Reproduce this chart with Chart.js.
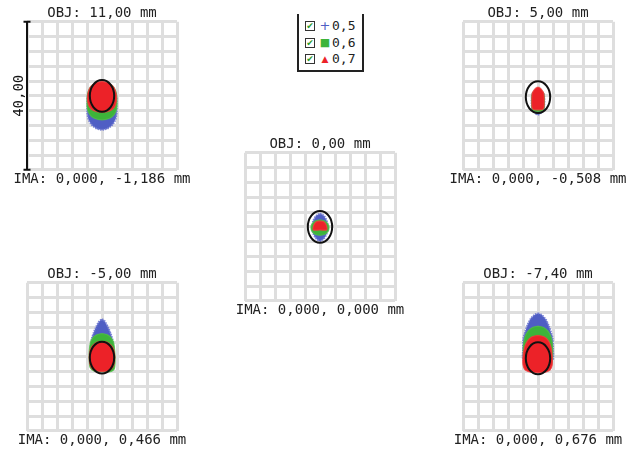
<!DOCTYPE html>
<html>
<head>
<meta charset="utf-8">
<script src="https://cdn.jsdelivr.net/npm/chart.js@4.4.1/dist/chart.umd.min.js"></script>
<style>
  html, body { margin: 0; padding: 0; background: #fff; width: 636px; height: 450px; overflow: hidden; }
  body { position: relative; font-family: 'DejaVu Sans Mono', monospace; }
  canvas.panel { position: absolute; }
  #legend { position: absolute; left: 297px; top: 14px; width: 63px; height: 56px;
            border: 2px solid #222; border-top: none; }
  .row { position: absolute; left: 0; height: 16px; line-height: 16px; font-size: 13px; color: #222; white-space: nowrap; }
  .chk { position: absolute; left: 6px; top: 3px; width: 8px; height: 8px; border: 1.5px solid #333;
         font-family: 'DejaVu Sans', sans-serif; font-size: 9px; line-height: 8px; text-align: center; color: #2a9a2a; font-weight: bold; }
  .mk { position: absolute; left: 20px; width: 12px; text-align: center; font-family: 'DejaVu Sans', sans-serif; }
  .lbl { position: absolute; left: 33px; }
</style>
</head>
<body>
<div id="legend"></div>
<script>
// Field heights (object side) and image-plane chief ray positions, mm
const objField = [11.00, 5.00, 0.00, -5.00, -7.40];
const imaX = [0.000, 0.000, 0.000, 0.000, 0.000];
const imaY = [-1.186, -0.508, 0.000, 0.466, 0.676];

// Wavelengths, µm
const wavelengths = [0.5, 0.6, 0.7];
const waveColors = ['#4f5ec4', '#3db43a', '#ec2228'];
const waveEdges = ['rgba(110,120,210,0.9)', 'rgba(80,190,70,0.8)', 'rgba(240,60,60,0.8)'];
const waveMarks = ['+', '\u25A0', '\u25B2'];

// Scale bar length, µm (the plot box spans this on each side)
const scaleBar = 40.00;

// Airy ellipse: centre offset and semi-axes, µm
const airyCentreY = [0.0, -0.35, 0.0, -0.2, -0.4];
const airyRx = 3.25;
const airyRy = 4.3;

// Spot outlines per field, µm (x, y)
const p1Blue  = [[0,3.2],[2.6,2.4],[3.7,0.5],[3.9,-2.5],[3.9,-4.8],[3.5,-6.6],[2.6,-8.0],[1.3,-8.9],[0,-9.2],[-1.3,-8.9],[-2.6,-8.0],[-3.5,-6.6],[-3.9,-4.8],[-3.9,-2.5],[-3.7,0.5],[-2.6,2.4]];
const p1Green = [[0,3.6],[2.7,2.8],[3.8,0.8],[4.0,-1.8],[3.9,-3.6],[3.3,-5.0],[2.2,-6.0],[0,-6.5],[-2.2,-6.0],[-3.3,-5.0],[-3.9,-3.6],[-4.0,-1.8],[-3.8,0.8],[-2.7,2.8]];
const p1Red   = [[0,3.9],[1.9,3.4],[3.2,2.2],[3.8,0.4],[3.8,-1.6],[3.3,-3.1],[2.2,-4.0],[0,-4.4],[-2.2,-4.0],[-3.3,-3.1],[-3.8,-1.6],[-3.8,0.4],[-3.2,2.2],[-1.9,3.4]];

const p2Blue  = [[0,2.0],[1.5,0.5],[1.6,-3.4],[1.1,-4.3],[0,-5.1],[-1.1,-4.3],[-1.6,-3.4],[-1.5,0.5]];
const p2Green = [[0,2.2],[1.55,0.6],[1.65,-3.3],[1.3,-4.0],[0,-4.3],[-1.3,-4.0],[-1.65,-3.3],[-1.55,0.6]];
const p2Red   = [[0,2.4],[0.7,2.0],[1.4,1.0],[1.6,0.3],[1.6,-3.1],[1.2,-3.7],[0,-3.8],[-1.2,-3.7],[-1.6,-3.1],[-1.6,0.3],[-1.4,1.0],[-0.7,2.0]];

const p3Blue  = [[0,3.6],[1.0,3.0],[1.8,1.6],[2.05,0],[1.8,-1.8],[1.0,-3.2],[0,-3.85],[-1.0,-3.2],[-1.8,-1.8],[-2.05,0],[-1.8,1.6],[-1.0,3.0]];
const p3Green = [[0,1.9],[1.2,1.6],[2.1,0.8],[2.4,-0.3],[2.1,-1.3],[1.2,-2.1],[0,-2.3],[-1.2,-2.1],[-2.1,-1.3],[-2.4,-0.3],[-2.1,0.8],[-1.2,1.6]];
const p3Red   = [[0,1.6],[0.9,1.4],[1.5,0.8],[1.8,0],[1.8,-0.85],[0,-0.85],[-1.8,-0.85],[-1.8,0],[-1.5,0.8],[-0.9,1.4]];

const p4Blue  = [[0,10.2],[0.8,9.5],[1.6,8.0],[2.3,6.3],[2.8,4.6],[3.0,2.5],[3.0,0],[2.5,-2.0],[0,-3.0],[-2.5,-2.0],[-3.0,0],[-3.0,2.5],[-2.8,4.6],[-2.3,6.3],[-1.6,8.0],[-0.8,9.5]];
const p4Green = [[0,6.3],[1.3,6.0],[2.4,5.2],[3.1,3.8],[3.4,1.5],[3.5,-1.5],[3.2,-3.4],[2.2,-4.0],[0,-4.0],[-2.2,-3.8],[-3.2,-2.8],[-3.4,-1.0],[-3.4,1.5],[-3.1,3.8],[-2.4,5.2],[-1.3,6.0]];
const p4Red   = [[0,4.2],[1.6,3.8],[2.8,2.6],[3.35,0.8],[3.35,-1.2],[2.9,-2.8],[1.8,-3.7],[0,-3.95],[-1.8,-3.7],[-2.9,-2.8],[-3.35,-1.2],[-3.35,0.8],[-2.8,2.6],[-1.6,3.8]];

const p5Blue  = [[0,11.8],[1.0,11.3],[2.0,10.2],[2.8,8.6],[3.4,6.8],[3.9,5.0],[4.0,2.0],[3.8,-1.0],[0,-3.0],[-3.8,-1.0],[-4.0,2.0],[-3.9,5.0],[-3.4,6.8],[-2.8,8.6],[-2.0,10.2],[-1.0,11.3]];
const p5Green = [[0,8.3],[1.5,7.9],[2.7,6.9],[3.5,5.3],[3.9,3.0],[3.9,0],[3.5,-2.0],[0,-3.0],[-3.5,-2.0],[-3.9,0],[-3.9,3.0],[-3.5,5.3],[-2.7,6.9],[-1.5,7.9]];
const p5Red   = [[0,5.8],[1.6,5.4],[2.8,4.3],[3.5,2.5],[3.8,0],[3.8,-2.2],[3.2,-3.6],[1.8,-4.2],[0,-4.3],[-1.8,-4.2],[-3.4,-3.6],[-4.0,-2.2],[-4.0,0],[-3.6,2.5],[-2.8,4.3],[-1.6,5.4]];

const spots = [
  [p1Blue, p1Green, p1Red],
  [p2Blue, p2Green, p2Red],
  [p3Blue, p3Green, p3Red],
  [p4Blue, p4Green, p4Red],
  [p5Blue, p5Green, p5Red]
];

// Plot box (grid) top-left corners on the page
const boxLeft = [27, 463, 245, 27, 463];
const boxTop  = [22, 22, 153, 283, 283];

const fmt = (v, d) => v.toFixed(d).replace('.', ',');

// Legend
const legend = document.getElementById('legend');
const rowCentres = [11.5, 29, 45];
wavelengths.forEach((w, i) => {
  const row = document.createElement('div');
  row.className = 'row';
  row.style.top = (rowCentres[i] - 8) + 'px';
  row.style.width = '63px';
  const chk = document.createElement('span'); chk.className = 'chk'; chk.textContent = '\u2714';
  const mk = document.createElement('span'); mk.className = 'mk'; mk.textContent = waveMarks[i];
  mk.style.color = waveColors[i];
  mk.style.fontSize = i === 0 ? '13px' : (i === 1 ? '11px' : '9px');
  const lb = document.createElement('span'); lb.className = 'lbl'; lb.textContent = fmt(w, 1);
  row.append(chk, mk, lb);
  legend.appendChild(row);
});

// Airy ellipse and optional scale bar, drawn through the chart's scales
const spotExtras = {
  id: 'spotExtras',
  afterDatasetsDraw(chart, args, opts) {
    const { ctx, scales: { x, y } } = chart;
    const cx = x.getPixelForValue(0);
    const cy = y.getPixelForValue(opts.cy);
    const rx = Math.abs(x.getPixelForValue(opts.rx) - x.getPixelForValue(0));
    const ry = Math.abs(y.getPixelForValue(opts.cy + opts.ry) - cy);
    ctx.save();
    ctx.beginPath();
    ctx.ellipse(cx, cy, rx, ry, 0, 0, Math.PI * 2);
    ctx.lineWidth = 2;
    ctx.strokeStyle = '#111';
    ctx.stroke();
    if (opts.bar) {
      const bx = x.getPixelForValue(-scaleBar / 2);
      const y0 = y.getPixelForValue(-scaleBar / 2);
      const y1 = y.getPixelForValue(scaleBar / 2);
      ctx.beginPath();
      ctx.moveTo(bx, y0); ctx.lineTo(bx, y1);
      ctx.moveTo(bx - 3.5, y0); ctx.lineTo(bx + 3.5, y0);
      ctx.moveTo(bx - 3.5, y1); ctx.lineTo(bx + 3.5, y1);
      ctx.lineWidth = 2;
      ctx.strokeStyle = '#111';
      ctx.stroke();
      ctx.translate(bx - 8, (y0 + y1) / 2);
      ctx.rotate(-Math.PI / 2);
      ctx.fillStyle = '#111';
      ctx.font = '14px "DejaVu Sans Mono"';
      ctx.textAlign = 'center';
      ctx.textBaseline = 'middle';
      ctx.fillText(fmt(scaleBar, 2), 0, 0);
    }
    ctx.restore();
  }
};

const W = 200, H = 190, SIDE = 25, PADTOP = 2;
const lim = scaleBar / 2;
const sideFit = s => { s.width = SIDE; };

spots.forEach((sets, p) => {
  const cv = document.createElement('canvas');
  cv.className = 'panel';
  cv.width = W; cv.height = H;
  cv.style.left = (boxLeft[p] - SIDE) + 'px';
  cv.style.top = (boxTop[p] - PADTOP - 16.8) + 'px';
  document.body.appendChild(cv);

  // red on top, blue underneath
  const datasets = [2, 1, 0].map(w => ({
    label: fmt(wavelengths[w], 1),
    data: sets[w].concat([sets[w][0]]).map(([px, py]) => ({ x: px, y: py })),
    showLine: true,
    fill: 'shape',
    backgroundColor: waveColors[w],
    borderColor: waveEdges[w],
    borderWidth: w === 0 ? 2 : 1.2,
    borderDash: w === 0 ? [1.5, 1] : [],
    tension: 0.3,
    pointRadius: 0
  }));

  new Chart(cv, {
    type: 'scatter',
    data: { datasets },
    options: {
      responsive: false,
      animation: false,
      devicePixelRatio: 1,
      layout: { padding: { left: 0, right: 0, top: PADTOP, bottom: 5.4 } },
      scales: {
        x: {
          min: -lim, max: lim,
          ticks: { display: false, stepSize: 4 },
          grid: { color: '#dedede', lineWidth: 3, drawTicks: false },
          border: { display: false }
        },
        y: {
          min: -lim, max: lim,
          ticks: { display: false, stepSize: 4 },
          grid: { color: '#dedede', lineWidth: 3, drawTicks: false },
          border: { display: false },
          afterFit: sideFit
        },
        yR: {
          position: 'right',
          min: -lim, max: lim,
          ticks: { display: false },
          grid: { display: false, drawTicks: false },
          border: { display: false },
          afterFit: sideFit
        }
      },
      plugins: {
        legend: { display: false },
        tooltip: { enabled: false },
        title: {
          display: true,
          text: 'OBJ: ' + fmt(objField[p], 2) + ' mm',
          font: { family: 'DejaVu Sans Mono', size: 14, weight: 'normal' },
          color: '#222',
          padding: { top: 0, bottom: 0 }
        },
        subtitle: {
          display: true,
          position: 'bottom',
          text: 'IMA: ' + fmt(imaX[p], 3) + ', ' + fmt(imaY[p], 3) + ' mm',
          font: { family: 'DejaVu Sans Mono', size: 14, weight: 'normal' },
          color: '#222',
          padding: { top: 1, bottom: 0 }
        },
        spotExtras: { cy: airyCentreY[p], rx: airyRx, ry: airyRy, bar: p === 0 }
      }
    },
    plugins: [spotExtras]
  });
});
</script>
</body>
</html>
